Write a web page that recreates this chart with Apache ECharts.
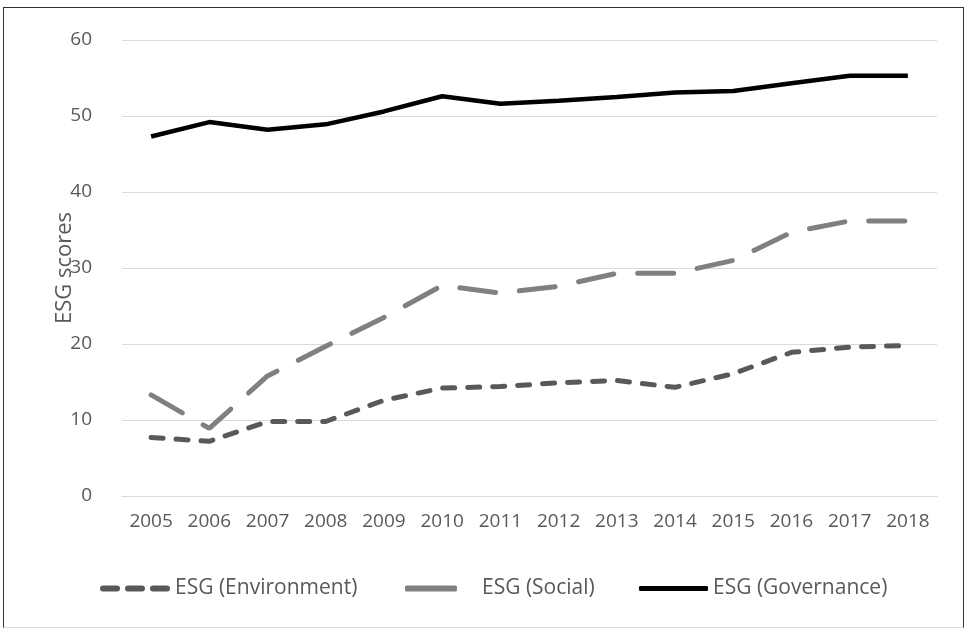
<!DOCTYPE html>
<html><head><meta charset="utf-8">
<script src="https://cdn.jsdelivr.net/npm/echarts@6/dist/echarts.min.js"></script>
<style>
html,body{margin:0;padding:0;background:#fff;}
#frame{position:absolute;left:3px;top:7px;width:961px;height:621px;border:1.5px solid #333;border-bottom-color:#ddd;box-sizing:border-box;}
#c{position:absolute;left:0;top:0;width:969px;height:628px;}
</style></head>
<body>
<div id="frame"></div>
<div id="c"></div>
<script>
const years = ['2005','2006','2007','2008','2009','2010','2011','2012','2013','2014','2015','2016','2017','2018'];
const environment = [7.7,7.2,9.8,9.8,12.6,14.2,14.4,14.9,15.2,14.3,16.1,18.9,19.6,19.8];
const social = [13.3,8.9,15.8,19.7,23.5,27.7,26.7,27.6,29.3,29.3,31.0,34.7,36.2,36.2];
const governance = [47.3,49.2,48.2,48.9,50.6,52.6,51.6,52.0,52.5,53.1,53.3,54.3,55.3,55.3];
const names = ['ESG (Environment)','ESG (Social)','ESG (Governance)'];

const chart = echarts.init(document.getElementById('c'));
const font = 'Open Sans, Noto Sans, sans-serif';
const legText = {color:'#595959',fontSize:21,fontFamily:font};
const envIcon = 'path://M3,0h14a3,3 0 0 1 0,6h-14a3,3 0 0 1 0,-6z M28,0h14a3,3 0 0 1 0,6h-14a3,3 0 0 1 0,-6z M53,0h14a3,3 0 0 1 0,6h-14a3,3 0 0 1 0,-6z';
chart.setOption({
  animation:false,
  grid:{left:122,right:32,top:40,bottom:132,containLabel:false},
  xAxis:{type:'category',data:years,boundaryGap:true,
    axisLine:{show:true,lineStyle:{color:'#d9d9d9',width:1}},
    axisTick:{show:false},
    axisLabel:{color:'#595959',fontSize:19,fontFamily:font,margin:16}},
  yAxis:{type:'value',min:0,max:60,interval:10,
    name:'ESG scores',nameLocation:'middle',nameGap:46,nameRotate:90,nameMoveOverlap:false,
    nameTextStyle:{color:'#595959',fontSize:22,fontFamily:font},
    axisLine:{show:false},axisTick:{show:false},
    axisLabel:{color:'#595959',fontSize:19,fontFamily:font,margin:30},
    splitLine:{lineStyle:{color:'#d9d9d9',width:1}}},
  legend:[
    {left:95,top:573,itemWidth:70,itemHeight:6,icon:envIcon,textStyle:legText,data:[names[0]]},
    {left:400,top:573,itemWidth:52,itemHeight:6,icon:'roundRect',textStyle:Object.assign({padding:[0,0,0,20]},legText),data:[names[1]]},
    {left:634,top:573,itemWidth:69,itemHeight:5,icon:'roundRect',textStyle:legText,data:[names[2]]}
  ],
  series:[
    {name:names[0],type:'line',data:environment,symbol:'none',
      lineStyle:{color:'#595959',width:5,type:[12,13],cap:'round'},itemStyle:{color:'#595959'}},
    {name:names[1],type:'line',data:social,symbol:'none',
      lineStyle:{color:'#808080',width:5,type:[36,24],cap:'round'},itemStyle:{color:'#808080'}},
    {name:names[2],type:'line',data:governance,symbol:'none',
      lineStyle:{color:'#000000',width:4.5},itemStyle:{color:'#000'}}
  ]
});
</script>
</body></html>
